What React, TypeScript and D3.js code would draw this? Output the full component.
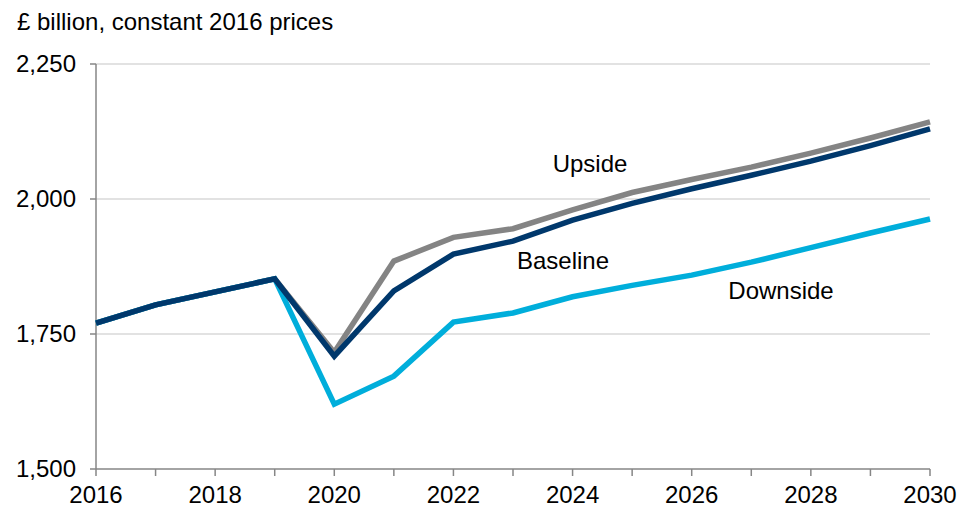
import React from "react";
import * as d3 from "d3";

const years = [2016, 2017, 2018, 2019, 2020, 2021, 2022, 2023, 2024, 2025, 2026, 2027, 2028, 2029, 2030];
const baseline = [1770, 1804, 1828, 1852, 1709, 1830, 1898, 1922, 1961, 1992, 2019, 2044, 2070, 2099, 2130];
const upside = [1770, 1804, 1828, 1852, 1716, 1885, 1929, 1945, 1980, 2012, 2036, 2059, 2085, 2113, 2143];
const downside = [1770, 1804, 1828, 1852, 1620, 1672, 1772, 1789, 1819, 1840, 1859, 1883, 1910, 1937, 1963];
const yTicks = [1500, 1750, 2000, 2250];
const xTickLabels = [2016, 2018, 2020, 2022, 2024, 2026, 2028, 2030];

const seriesList = [
  { name: "Upside", values: upside, color: "#848484", label: { x: 590, y: 172 } },
  { name: "Downside", values: downside, color: "#00AEDB", label: { x: 781, y: 299 } },
  { name: "Baseline", values: baseline, color: "#00386C", label: { x: 563, y: 269 } },
];

const FONT = "'Liberation Sans', Arial, sans-serif";

export default function App() {
  const W = 966;
  const H = 508;
  const x = d3.scaleLinear().domain([2016, 2030]).range([96, 930]);
  const y = d3.scaleLinear().domain([1500, 2250]).range([469, 64]);
  const line = (vals: number[]) =>
    d3.line<number>().x((_, i) => x(years[i])).y((d) => y(d))(vals) || "";

  return (
    <svg width={W} height={H} style={{ position: "absolute", left: 0, top: 0, background: "#fff" }} fontFamily={FONT}>
      <text x={17} y={30} fontSize={24} fill="#000">£ billion, constant 2016 prices</text>
      {yTicks.filter((t) => t !== 1500).map((t) => (
        <line key={"g" + t} x1={96} x2={930} y1={y(t)} y2={y(t)} stroke="#D9D9D9" strokeWidth={1.3} />
      ))}
      <line x1={96} x2={96} y1={y(2250)} y2={y(1500)} stroke="#868686" strokeWidth={1.5} />
      <line x1={96} x2={930} y1={y(1500)} y2={y(1500)} stroke="#868686" strokeWidth={1.5} />
      {yTicks.map((t) => (
        <g key={"yt" + t}>
          <line x1={90} x2={96} y1={y(t)} y2={y(t)} stroke="#868686" strokeWidth={1.5} />
          <text x={76} y={y(t)} dy="0.35em" textAnchor="end" fontSize={24} fill="#000">
            {d3.format(",")(t)}
          </text>
        </g>
      ))}
      {years.map((yr) => (
        <line key={"xt" + yr} x1={x(yr)} x2={x(yr)} y1={469} y2={476} stroke="#868686" strokeWidth={1.5} />
      ))}
      {xTickLabels.map((yr) => (
        <text key={"xl" + yr} x={x(yr)} y={503} textAnchor="middle" fontSize={24} fill="#000">
          {yr}
        </text>
      ))}
      {seriesList.map((s) => (
        <path key={s.name} d={line(s.values)} fill="none" stroke={s.color} strokeWidth={5.5} strokeLinejoin="miter" strokeLinecap="butt" />
      ))}
      {seriesList.map((s) => (
        <text key={"l" + s.name} x={s.label.x} y={s.label.y} textAnchor="middle" fontSize={24} fill="#000">
          {s.name}
        </text>
      ))}
    </svg>
  );
}
